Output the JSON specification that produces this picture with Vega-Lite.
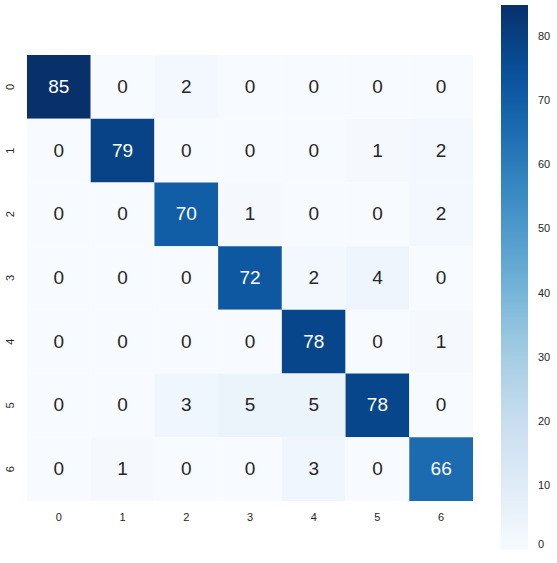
{
  "$schema": "https://vega.github.io/schema/vega-lite/v6.json",
  "width": 446,
  "height": 446,
  "autosize": {"type": "none"},
  "padding": {"left": 27, "top": 55, "right": 84, "bottom": 62},
  "background": "white",
  "config": {"view": {"stroke": null}, "font": "Liberation Sans"},
  "data": {"values": [
    {"t": 0, "p": 0, "v": 85}, {"t": 0, "p": 1, "v": 0}, {"t": 0, "p": 2, "v": 2}, {"t": 0, "p": 3, "v": 0}, {"t": 0, "p": 4, "v": 0}, {"t": 0, "p": 5, "v": 0}, {"t": 0, "p": 6, "v": 0},
    {"t": 1, "p": 0, "v": 0}, {"t": 1, "p": 1, "v": 79}, {"t": 1, "p": 2, "v": 0}, {"t": 1, "p": 3, "v": 0}, {"t": 1, "p": 4, "v": 0}, {"t": 1, "p": 5, "v": 1}, {"t": 1, "p": 6, "v": 2},
    {"t": 2, "p": 0, "v": 0}, {"t": 2, "p": 1, "v": 0}, {"t": 2, "p": 2, "v": 70}, {"t": 2, "p": 3, "v": 1}, {"t": 2, "p": 4, "v": 0}, {"t": 2, "p": 5, "v": 0}, {"t": 2, "p": 6, "v": 2},
    {"t": 3, "p": 0, "v": 0}, {"t": 3, "p": 1, "v": 0}, {"t": 3, "p": 2, "v": 0}, {"t": 3, "p": 3, "v": 72}, {"t": 3, "p": 4, "v": 2}, {"t": 3, "p": 5, "v": 4}, {"t": 3, "p": 6, "v": 0},
    {"t": 4, "p": 0, "v": 0}, {"t": 4, "p": 1, "v": 0}, {"t": 4, "p": 2, "v": 0}, {"t": 4, "p": 3, "v": 0}, {"t": 4, "p": 4, "v": 78}, {"t": 4, "p": 5, "v": 0}, {"t": 4, "p": 6, "v": 1},
    {"t": 5, "p": 0, "v": 0}, {"t": 5, "p": 1, "v": 0}, {"t": 5, "p": 2, "v": 3}, {"t": 5, "p": 3, "v": 5}, {"t": 5, "p": 4, "v": 5}, {"t": 5, "p": 5, "v": 78}, {"t": 5, "p": 6, "v": 0},
    {"t": 6, "p": 0, "v": 0}, {"t": 6, "p": 1, "v": 1}, {"t": 6, "p": 2, "v": 0}, {"t": 6, "p": 3, "v": 0}, {"t": 6, "p": 4, "v": 3}, {"t": 6, "p": 5, "v": 0}, {"t": 6, "p": 6, "v": 66}
  ]},
  "encoding": {
    "x": {"field": "p", "type": "ordinal", "scale": {"paddingInner": 0, "paddingOuter": 0},
          "axis": {"title": null, "labelAngle": 0, "domain": false, "ticks": false, "labelFontSize": 11, "labelColor": "#262626", "labelPadding": 10, "grid": false}},
    "y": {"field": "t", "type": "ordinal", "scale": {"paddingInner": 0, "paddingOuter": 0},
          "axis": {"title": null, "labelAngle": 270, "domain": false, "ticks": false, "labelFontSize": 11, "labelColor": "#262626", "labelPadding": 12, "grid": false}}
  },
  "layer": [
    {
      "mark": {"type": "rect", "strokeWidth": 0},
      "encoding": {
        "color": {"field": "v", "type": "quantitative",
          "scale": {"domain": [0, 10.625, 21.25, 31.875, 42.5, 53.125, 63.75, 74.375, 85],
                    "range": ["#f7fbff", "#deebf7", "#c6dbef", "#9ecae1", "#6baed6", "#4292c6", "#2171b5", "#08519c", "#08306b"],
                    "interpolate": "rgb"},
          "legend": {"title": null, "orient": "none", "legendX": 474, "legendY": -50, "direction": "vertical",
                     "gradientLength": 545, "gradientThickness": 27, "gradientStrokeWidth": 0,
                     "values": [0, 10, 20, 30, 40, 50, 60, 70, 80],
                     "labelFontSize": 11, "labelColor": "#262626", "labelOffset": 10, "labelBaseline": "middle", "labelOverlap": false}}
      }
    },
    {
      "mark": {"type": "text", "fontSize": 19, "font": "Liberation Sans"},
      "encoding": {
        "text": {"field": "v", "type": "quantitative"},
        "color": {"condition": {"test": "datum.v > 40", "value": "white"}, "value": "#262626"}
      }
    }
  ]
}
